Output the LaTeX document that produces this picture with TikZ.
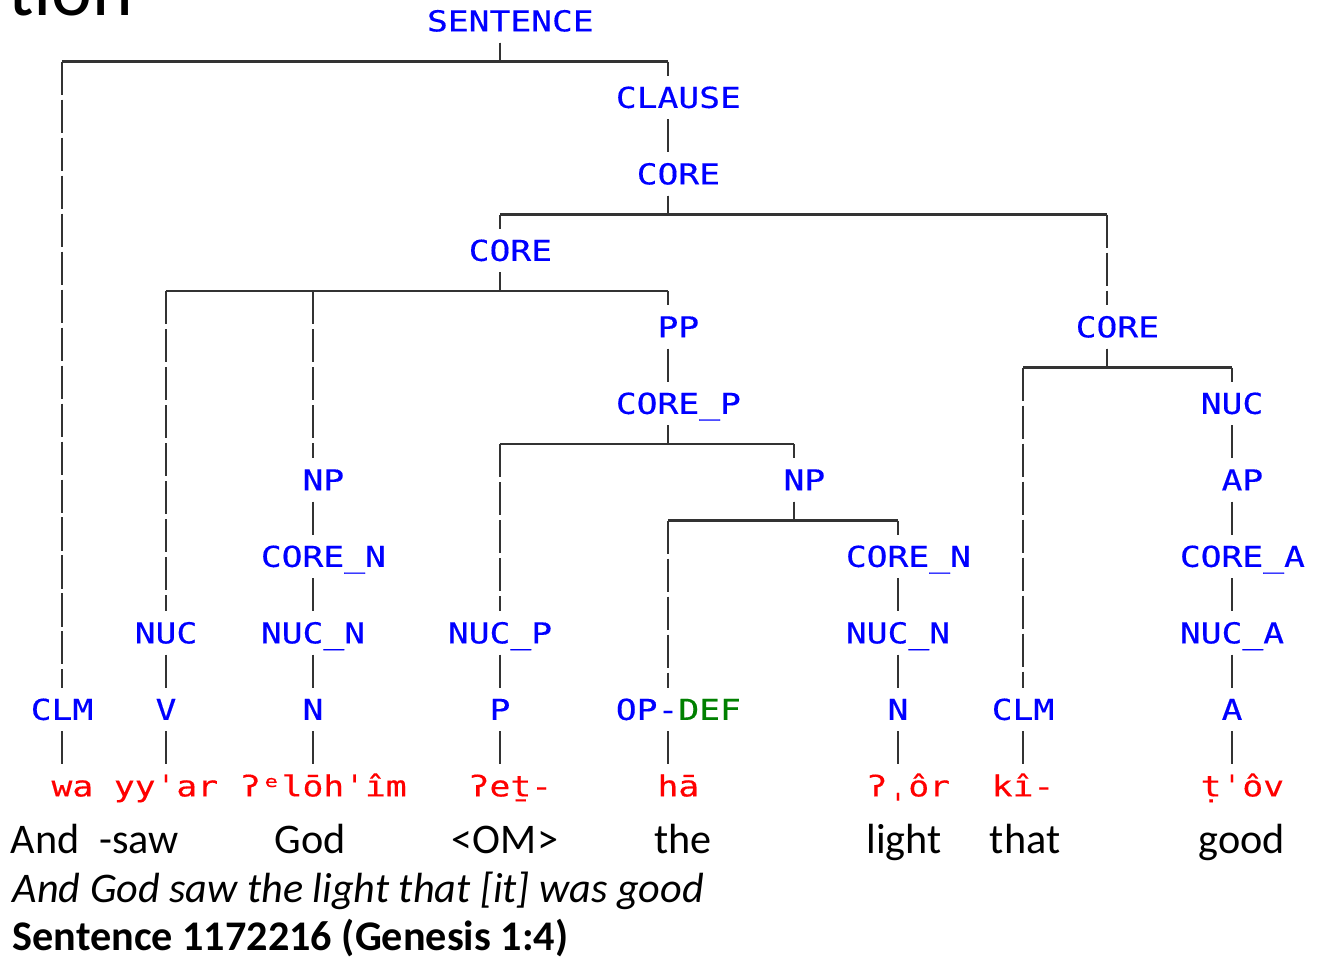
\documentclass[tikz,border=0pt]{standalone}
\usepackage{fontspec}
\setmainfont{Carlito}
\newfontfamily\treefont[FakeStretch=1.2,FakeBold=0.4]{DejaVu Sans Mono}

\begin{document}
\begin{tikzpicture}[x=0.01cm,y=-0.01cm,
    lbl/.style={font=\treefont\fontsize{8.2}{8}\selectfont,text=blue,inner sep=0pt,
      minimum height=0.42cm,text height=5.9pt,text depth=0pt},
    evn/.style={execute at begin node={\hspace*{\cw}}},
    wrd/.style={lbl,text=red},
    gls/.style={inner sep=0pt,anchor=base,font=\fontsize{12}{14}\selectfont},
    bar/.style={draw=black!80,line width=0.7pt},
    stem/.style={bar,dash pattern=on 9.4pt off 1.4pt}]
  \def\cw{5.9pt}   % one character cell
  \def\rh{76.5}    % row height
  \useasboundingbox (0,0) rectangle (1327,960);
  \node[anchor=base west,inner sep=0pt,font=\fontsize{22}{22}\selectfont] (ttl) at (8,15) {tion};
  % labels, odd length
  \foreach \n/\c/\r/\t in {nuc1/1232/5/NUC, nuc/166/8/NUC, nucn1/313/8/NUC\_N, nucp/500/8/NUC\_P,
      nucn2/898/8/NUC\_N, nuca/1232/8/NUC\_A, clm1/62/9/CLM, v/166/9/V, n1/313/9/N, p/500/9/P,
      n2/898/9/N, clm2/1023/9/CLM, a/1232/9/A}
    { \node[lbl] (\n) at (\c,\r*\rh+21) {\t}; }
  % labels, even length
  \foreach \n/\c/\r/\t in {sent/500/0/SENTENCE, clause/668/1/CLAUSE, core1/668/2/CORE, core2/500/3/CORE,
      pp/668/4/PP, core3/1107/4/CORE, corep/668/5/CORE\_P, np1/313/6/NP, np2/794/6/NP, ap/1232/6/AP,
      coren1/313/7/CORE\_N, coren2/898/7/CORE\_N, corea/1232/7/CORE\_A}
    { \node[lbl,evn] (\n) at (\c,\r*\rh+21) {\t}; }
  \node[lbl,evn] (opdef) at (668,9*\rh+21) {OP-\textcolor{green!50!black}{DEF}};
  % words
  \foreach \n/\c/\t in {w2/166/yyˈar, w7/1023/kî-}
    { \node[wrd] (\n) at (\c,10*\rh+21) {\t}; }
  \foreach \n/\c/\t in {w1/62/wa, w3/313/ʔᵉlōhˈîm, w4/500/ʔeṯ-, w5/668/hā, w6/898/ʔˌôr, w8/1232/ṭˈôv}
    { \node[wrd,evn] (\n) at (\c,10*\rh+21) {\t}; }
  % glosses
  \foreach \n/\c/\t in {g1/45/And, g2/139/-saw, g3/310/God, g4/505/{<OM>}, g5/683/the, g6/904/light,
      g7/1025/that, g8/1242/good}
    { \node[gls] (\n) at (\c,853) {\t}; }
  \node[gls,anchor=base west,font=\fontsize{12}{14}\selectfont\itshape] (trans) at (12,902)
    {And God saw the light that [it] was good};
  \node[gls,anchor=base west,font=\fontsize{12}{14}\selectfont\bfseries] (ref) at (12,950)
    {Sentence 1172216 (Genesis 1:4)};
  % branches
  \foreach \a/\b in {sent/clm1, sent/clause, core1/core2, core1/core3, core2/nuc, core2/np1, core2/pp,
      corep/nucp, corep/np2, np2/opdef, np2/coren2, core3/clm2, core3/nuc1}
    { \draw[bar] (\a.south) -- ++(0,19) coordinate (k) -- (k -| \b);
      \draw[stem] (k -| \b) -- (\b.north); }
  \foreach \a/\b in {clause/core1, pp/corep, nuc1/ap, ap/corea, corea/nuca, nuca/a, np1/coren1,
      coren1/nucn1, nucn1/n1, coren2/nucn2, nucn2/n2, nuc/v, nucp/p, clm1/w1, v/w2, n1/w3, p/w4,
      opdef/w5, n2/w6, clm2/w7, a/w8}
    { \draw[stem] (\a) -- (\b); }
\end{tikzpicture}
\end{document}
